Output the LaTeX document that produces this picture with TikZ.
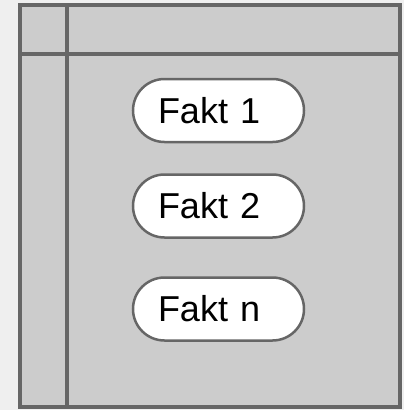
\documentclass[tikz,border=0pt]{standalone}
\usepackage{fontspec}
\setmainfont{Liberation Sans}
\definecolor{bgc}{HTML}{EFEFEF}
\definecolor{boxc}{HTML}{CCCCCC}
\definecolor{linec}{HTML}{666666}
\begin{document}
\begin{tikzpicture}[x=1pt,y=-1pt,
  frame/.style={draw=linec,line width=4pt},
  pill/.style={draw=linec,line width=2.5pt,fill=white,rounded corners=31.5pt,
    minimum height=63pt,inner xsep=25pt,text width=121pt,align=left,
    font=\fontsize{36}{40}\selectfont}]
\fill[bgc] (0,0) rectangle (404,410);
\useasboundingbox (0,0) rectangle (404,410);
\fill[boxc] (20,4.5) rectangle (399.5,407);
\coordinate (vt) at (67,4.5);
\coordinate (vb) at (67,407);
\coordinate (hl) at (20,54);
\coordinate (hr) at (399.5,54);
\draw[frame] (vt) -- (vb);
\draw[frame] (hl) -- (hr);
\draw[frame] (20,4.5) rectangle (399.5,407);
\node[pill] (f1) at (218.5,110.5) {Fakt 1};
\node[pill] (f2) at (218.5,206) {Fakt 2};
\node[pill] (fn) at (218.5,309) {Fakt n};
\end{tikzpicture}
\end{document}
